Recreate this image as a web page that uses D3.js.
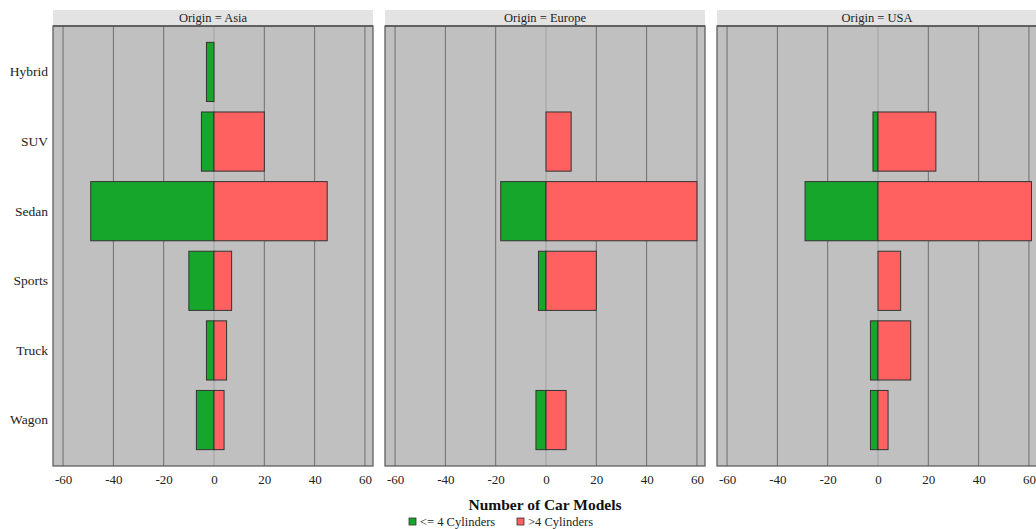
<!DOCTYPE html>
<html><head><meta charset="utf-8">
<script src="https://cdn.jsdelivr.net/npm/d3@7"></script>
<style>body{margin:0;background:#fff}svg{display:block}text{font-family:"Liberation Serif","DejaVu Serif",serif}</style>
</head><body><svg id="c" width="1036" height="529"></svg>
<script>
const origins = ["Asia", "Europe", "USA"];
const types = ["Hybrid", "SUV", "Sedan", "Sports", "Truck", "Wagon"];
// counts of models with <= 4 cylinders (drawn to the left)
const lowAsia = [3, 5, 49, 10, 3, 7];
const lowEurope = [0, 0, 18, 3, 0, 4];
const lowUSA = [0, 2, 29, 0, 3, 3];
// counts of models with > 4 cylinders (drawn to the right)
const highAsia = [0, 20, 45, 7, 5, 4];
const highEurope = [0, 10, 60, 20, 0, 8];
const highUSA = [0, 23, 61, 9, 13, 4];
const xTicks = [-60, -40, -20, 0, 20, 40, 60];
const seriesNames = ["<= 4 Cylinders", ">4 Cylinders"];

const lows = [lowAsia, lowEurope, lowUSA];
const highs = [highAsia, highEurope, highUSA];
const colors = ["#16a62c", "#ff6060"];

const svg = d3.select("#c");
const plotTop = 26, plotBottom = 466, stripTop = 10;
const panelLeft = [53, 385, 717], panelW = 320;

const y = d3.scaleBand().domain(types).range([plotTop, plotBottom]).paddingInner(0.15).paddingOuter(0.235);

origins.forEach((o, i) => {
  const x0 = panelLeft[i];
  const x = d3.scaleLinear().domain([-64, 63.2]).range([x0, x0 + panelW]);
  const g = svg.append("g");
  // strip
  g.append("rect").attr("x", x0).attr("y", stripTop).attr("width", panelW).attr("height", plotTop - stripTop)
    .attr("fill", "#e3e3e3");
  g.append("text").attr("x", x0 + panelW / 2).attr("y", plotTop - 4).attr("text-anchor", "middle")
    .attr("font-size", 12.5).attr("fill", "#222").text("Origin = " + o);
  // panel
  g.append("rect").attr("x", x0).attr("y", plotTop).attr("width", panelW).attr("height", plotBottom - plotTop)
    .attr("fill", "#c0c0c0");
  g.selectAll(".grid").data(xTicks).join("line")
    .attr("x1", d => x(d)).attr("x2", d => x(d)).attr("y1", plotTop).attr("y2", plotBottom)
    .attr("stroke", d => d === 0 ? "#a0a0a0" : "#6e6e6e").attr("stroke-width", 1);
  // bars
  const lowV = lows[i], highV = highs[i];
  g.selectAll(".low").data(types.map((t, k) => ({t, v: lowV[k]})).filter(d => d.v > 0)).join("rect")
    .attr("x", d => x(-d.v)).attr("width", d => x(0) - x(-d.v))
    .attr("y", d => y(d.t)).attr("height", y.bandwidth())
    .attr("fill", colors[0]).attr("stroke", "#333").attr("stroke-width", 1);
  g.selectAll(".high").data(types.map((t, k) => ({t, v: highV[k]})).filter(d => d.v > 0)).join("rect")
    .attr("x", x(0)).attr("width", d => x(d.v) - x(0))
    .attr("y", d => y(d.t)).attr("height", y.bandwidth())
    .attr("fill", colors[1]).attr("stroke", "#333").attr("stroke-width", 1);
  // frame
  g.append("rect").attr("x", x0).attr("y", plotTop).attr("width", panelW).attr("height", plotBottom - plotTop)
    .attr("fill", "none").attr("stroke", "#555").attr("stroke-width", 1.2);
  g.append("line").attr("x1", x0).attr("x2", x0 + panelW).attr("y1", plotTop).attr("y2", plotTop)
    .attr("stroke", "#555").attr("stroke-width", 1.5);
  // x axis
  const ax = g.append("g").attr("transform", `translate(0,${plotBottom})`)
    .call(d3.axisBottom(x).tickValues(xTicks).tickFormat(d => String(d)).tickSize(0).tickPadding(9));
  ax.select(".domain").remove();
  ax.selectAll("text").attr("font-size", 13).attr("fill", "#222")
    .attr("font-family", "Liberation Serif, serif");
});

// y axis labels
const ay = svg.append("g").attr("transform", `translate(${panelLeft[0]},0)`)
  .call(d3.axisLeft(y).tickSize(0).tickPadding(5));
ay.select(".domain").remove();
ay.selectAll("text").attr("font-size", 13.5).attr("fill", "#222").attr("font-family", "Liberation Serif, serif");

// title
svg.append("text").attr("x", 545).attr("y", 510).attr("text-anchor", "middle")
  .attr("font-size", 15.5).attr("font-weight", "bold").attr("fill", "#111").text("Number of Car Models");

// legend
const leg = [{x: 409, i: 0}, {x: 517, i: 1}];
leg.forEach(l => {
  svg.append("rect").attr("x", l.x).attr("y", 518).attr("width", 7).attr("height", 7)
    .attr("fill", colors[l.i]).attr("stroke", "#333").attr("stroke-width", 0.8);
  svg.append("text").attr("x", l.x + 11).attr("y", 526).attr("font-size", 12.5).attr("fill", "#222")
    .text(seriesNames[l.i]);
});
</script></body></html>
